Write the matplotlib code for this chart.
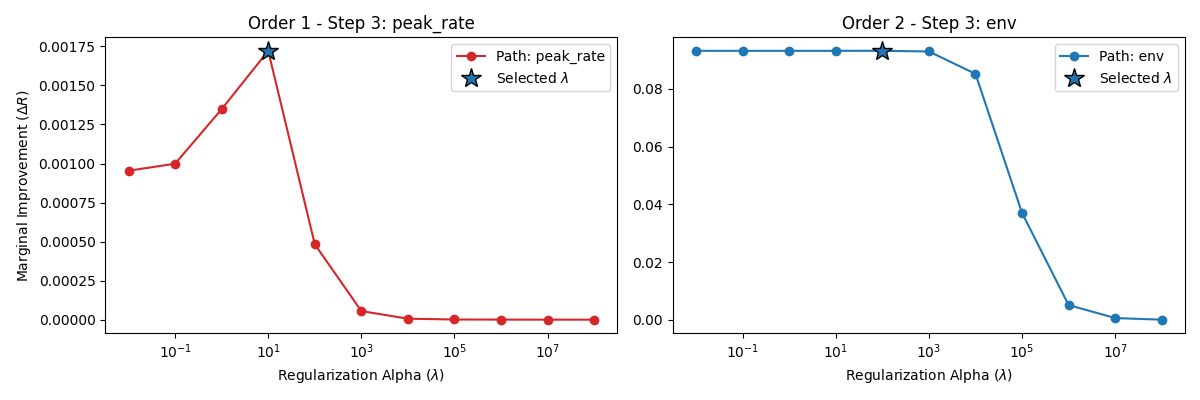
import numpy as np
import matplotlib
matplotlib.use('Agg')
import matplotlib.pyplot as plt

alphas = [1e-2, 1e-1, 1e0, 1e1, 1e2, 1e3, 1e4, 1e5, 1e6, 1e7, 1e8]

peak_rate_gain = [0.000954, 0.000999, 0.001348, 0.001722, 0.000483,
                  0.0000556, 0.0000064, 0.0000015, 0.0000008, 0.0000005, 0.0000003]
env_gain = [0.09318, 0.09318, 0.09318, 0.09318, 0.09320, 0.09295,
            0.0852, 0.0370, 0.00509, 0.00058, 0.00002]

sel_1 = 3
sel_2 = 4

fig, axes = plt.subplots(nrows=1, ncols=2, figsize=(12, 4), dpi=100)

# order 1 ------------------------------------------------------------------
ax = axes[0]
ax.plot(alphas, peak_rate_gain, marker='o', color='tab:red', label='Path: peak_rate')
ax.plot(alphas[sel_1], peak_rate_gain[sel_1], marker='*', markersize=15, color='tab:blue',
        markeredgecolor='black', linestyle='None', label=r'Selected $\lambda$')
ax.set_xscale('log')
ax.set_title('Order 1 - Step 3: peak_rate')
ax.set_xlabel(r'Regularization Alpha ($\lambda$)')
ax.set_ylabel(r'Marginal Improvement ($\Delta R$)')
ax.legend(loc='upper right')

# order 2 ------------------------------------------------------------------
ax = axes[1]
ax.plot(alphas, env_gain, marker='o', color='tab:blue', label='Path: env')
ax.plot(alphas[sel_2], env_gain[sel_2], marker='*', markersize=15, color='tab:blue',
        markeredgecolor='black', linestyle='None', label=r'Selected $\lambda$')
ax.set_xscale('log')
ax.set_title('Order 2 - Step 3: env')
ax.set_xlabel(r'Regularization Alpha ($\lambda$)')
ax.legend(loc='upper right')

fig.tight_layout()
plt.savefig('out.png')
